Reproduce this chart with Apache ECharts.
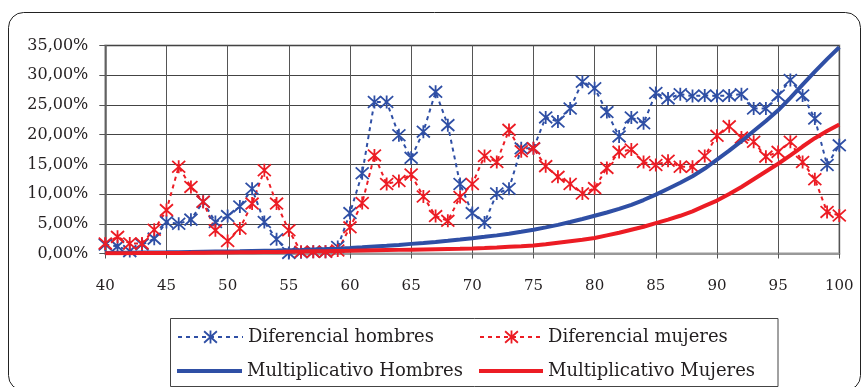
<!DOCTYPE html>
<html>
<head>
<meta charset="utf-8">
<script src="https://cdn.jsdelivr.net/npm/echarts@6/dist/echarts.min.js"></script>
<style>
html,body{margin:0;padding:0;background:#fff;}
#c{width:863px;height:387px;}
</style>
</head>
<body>
<div id="c"></div>
<script>
const ages = [40,41,42,43,44,45,46,47,48,49,50,51,52,53,54,55,56,57,58,59,60,61,62,63,64,65,66,67,68,69,70,71,72,73,74,75,76,77,78,79,80,81,82,83,84,85,86,87,88,89,90,91,92,93,94,95,96,97,98,99,100];
const difHombres = [1.5,1.2,0.4,1.5,2.5,5.3,5.0,5.7,8.7,5.3,6.3,7.9,10.9,5.3,2.4,0.1,0.2,0.3,0.3,1.1,6.8,13.5,25.5,25.5,19.9,16.1,20.5,27.2,21.6,11.7,6.8,5.2,10.1,10.9,17.7,17.7,22.9,22.2,24.4,28.9,27.8,23.8,19.7,22.9,21.9,27.0,26.1,26.8,26.5,26.6,26.5,26.6,26.8,24.4,24.4,26.6,29.2,26.6,22.7,14.9,18.2];
const difMujeres = [1.7,2.8,1.7,1.7,4.0,7.3,14.6,11.2,8.7,3.9,2.1,4.2,8.4,14.0,8.4,3.9,0.3,0.3,0.3,0.5,4.4,8.5,16.5,11.7,12.2,13.3,9.6,6.3,5.5,9.5,11.7,16.4,15.4,20.8,17.2,17.7,14.7,12.9,11.7,10.1,11.0,14.4,17.1,17.5,15.4,14.9,15.6,14.6,14.6,16.4,19.8,21.4,19.5,18.8,16.3,17.1,18.8,15.4,12.5,7.0,6.4];
const multHombres = [0.1,0.12,0.14,0.16,0.18,0.2,0.23,0.26,0.29,0.32,0.35,0.38,0.42,0.46,0.5,0.55,0.6,0.67,0.74,0.82,0.92,1.04,1.17,1.3,1.45,1.62,1.78,1.95,2.14,2.35,2.57,2.8,3.05,3.33,3.65,4.0,4.4,4.82,5.3,5.8,6.35,6.9,7.5,8.2,9.0,9.9,10.9,11.9,13.0,14.3,15.8,17.3,18.9,20.6,22.3,24.1,26.2,28.4,30.6,32.7,34.7];
const multMujeres = [0.05,0.05,0.06,0.07,0.08,0.09,0.1,0.11,0.13,0.15,0.17,0.19,0.21,0.24,0.27,0.3,0.33,0.36,0.39,0.42,0.45,0.49,0.53,0.57,0.61,0.65,0.69,0.73,0.77,0.81,0.86,0.93,1.02,1.12,1.22,1.35,1.55,1.8,2.05,2.3,2.6,3.05,3.5,4.0,4.5,5.1,5.7,6.35,7.1,8.0,8.9,10.0,11.2,12.5,13.8,15.1,16.5,18.0,19.4,20.6,21.7];
const seriesNames = ['Diferencial hombres','Diferencial mujeres','Multiplicativo Hombres','Multiplicativo Mujeres'];

const BLUE = '#2F4FA5';
const RED = '#EC1C24';
const TEXT = '#231F20';
const FONT = 'DejaVu Serif';
const STAR = 'path://M10,0 L10,20 M1,1 L19,19 M1,19 L19,1';

function pairs(vals){ return ages.map((a,i)=>[a, vals[i]]); }

const chart = echarts.init(document.getElementById('c'), null, {renderer:'canvas'});

function legendDashed(name, left, top, w){
  return {
    data:[name], left:left, top:top, padding:0,
    itemWidth:w, itemHeight:16, itemGap:0,
    textStyle:{fontFamily:FONT, fontSize:18, color:TEXT},
    itemStyle:{borderWidth:1.8},
    selectedMode:false
  };
}
function legendSolid(name, left, top, w){
  return {
    data:[{name:name, icon:'rect'}], left:left, top:top, padding:0,
    itemWidth:w, itemHeight:4, itemGap:0,
    textStyle:{fontFamily:FONT, fontSize:18, color:TEXT},
    selectedMode:false
  };
}

chart.setOption({
  animation:false,
  backgroundColor:'#fff',
  grid:{left:105.3, right:23.7, top:45.5, bottom:133.5, show:true, borderColor:'#9a9a9a', borderWidth:2},
  graphic:[
    {type:'rect', shape:{x:8.5,y:12.5,width:852,height:378,r:15}, style:{fill:'none',stroke:'#222',lineWidth:1}, silent:true},
    {type:'rect', shape:{x:170.5,y:318.5,width:607.5,height:68}, style:{fill:'none',stroke:'#444',lineWidth:1}, silent:true}
  ],
  legend:[
    legendDashed(seriesNames[0], 177, 328, 65),
    legendDashed(seriesNames[1], 479, 328, 63),
    legendSolid(seriesNames[2], 177, 362, 65),
    legendSolid(seriesNames[3], 479, 362, 64)
  ],
  xAxis:{
    type:'value', min:40, max:100, interval:5,
    axisLine:{show:true, onZero:false, lineStyle:{color:'#999', width:2}},
    axisTick:{show:true, length:5, lineStyle:{color:'#555'}},
    axisLabel:{fontFamily:FONT, fontSize:15, color:TEXT, margin:25},
    splitLine:{show:true, lineStyle:{color:'#555', width:1}}
  },
  yAxis:{
    type:'value', min:0, max:35, interval:5,
    axisLine:{show:true, lineStyle:{color:'#666', width:1.5}},
    axisTick:{show:true, length:6, lineStyle:{color:'#555'}},
    axisLabel:{fontFamily:FONT, fontSize:16, color:TEXT, margin:17,
      formatter:v=>v.toFixed(2).replace('.',',')+'%'},
    splitLine:{show:true, lineStyle:{color:'#444', width:1}}
  },
  series:[
    {name:seriesNames[0], type:'line', data:pairs(difHombres), symbol:STAR, symbolSize:13, showAllSymbol:true,
      lineStyle:{color:BLUE, width:2, type:[4,4]},
      itemStyle:{color:BLUE, borderColor:BLUE, borderWidth:1.8}, z:3},
    {name:seriesNames[1], type:'line', data:pairs(difMujeres), symbol:STAR, symbolSize:13, showAllSymbol:true,
      lineStyle:{color:RED, width:2, type:[4,4]},
      itemStyle:{color:RED, borderColor:RED, borderWidth:1.8}, z:3},
    {name:seriesNames[2], type:'line', data:pairs(multHombres), symbol:'none',
      lineStyle:{color:BLUE, width:4}, itemStyle:{color:BLUE}, z:4},
    {name:seriesNames[3], type:'line', data:pairs(multMujeres), symbol:'none',
      lineStyle:{color:RED, width:4}, itemStyle:{color:RED}, z:4}
  ]
});
</script>
</body>
</html>
